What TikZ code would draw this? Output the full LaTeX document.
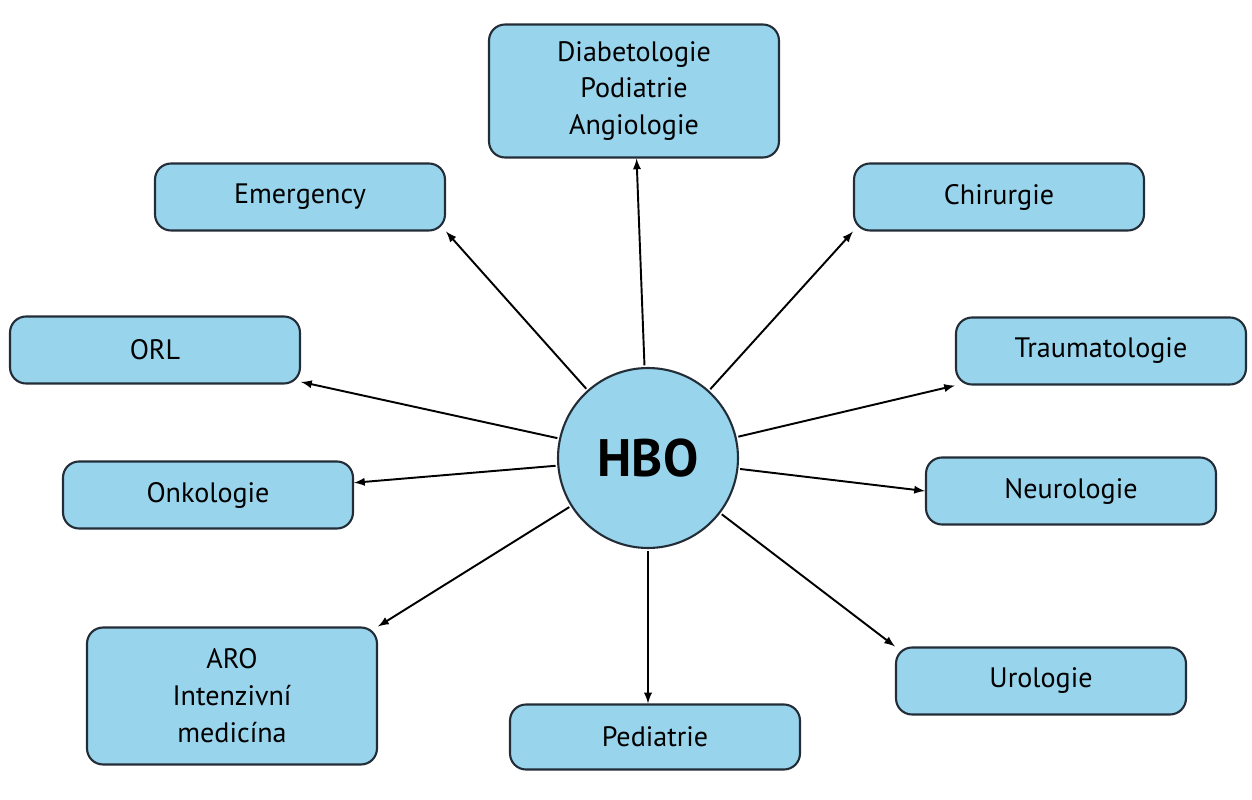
\documentclass[tikz,border=0pt]{standalone}
\usepackage{fontspec}
\setmainfont{PT Sans}
\usetikzlibrary{positioning}
\definecolor{boxfill}{RGB}{152,212,236}
\definecolor{boxline}{RGB}{35,45,55}

\begin{document}
\begin{tikzpicture}[x=0.02cm,y=-0.02cm,>=latex,
  thick,
  field/.style={rectangle,rounded corners=0.32cm,draw=boxline,line width=1.2pt,
    fill=boxfill,minimum width=5.8cm,minimum height=1.34cm,align=center,
    font=\fontsize{16}{21}\selectfont},
  hub/.style={circle,draw=boxline,line width=1.2pt,fill=boxfill,
    minimum size=3.6cm,font=\fontsize{30}{36}\selectfont\bfseries},
  link/.style={->,line width=1.1pt,shorten <=1pt}]

  \useasboundingbox (0,0) rectangle (1252,800);

  \node[hub] (hbo) at (648,458) {HBO};
  \node[field,minimum height=2.66cm] (dia) at (634,91) {Diabetologie\\Podiatrie\\Angiologie};
  \node[field] (eme) at (300,197) {Emergency};
  \node[field] (chi) at (999,197) {Chirurgie};
  \node[field] (orl) at (155,350) {ORL};
  \node[field] (tra) at (1101,351) {Traumatologie};
  \node[field] (onk) at (208,495) {Onkologie};
  \node[field] (neu) at (1071,491) {Neurologie};
  \node[field,minimum height=2.74cm] (aro) at (232,696) {ARO\\Intenzivní\\medicína};
  \node[field,minimum height=1.3cm] (ped) at (655,737) {Pediatrie};
  \node[field] (uro) at (1041,681) {Urologie};

  \draw[link] (hbo) -- (dia);
  \draw[link] (hbo) -- (eme.south east);
  \draw[link] (hbo) -- (chi.south west);
  \draw[link] (hbo) -- (orl);
  \draw[link] (hbo) -- (tra.south west);
  \draw[link] (hbo) -- (onk);
  \draw[link] (hbo) -- (neu.west);
  \draw[link] (hbo) -- (aro.north east);
  \draw[link] (hbo.south) -- (ped.north -| hbo.south);
  \draw[link] (hbo) -- (uro.north west);
\end{tikzpicture}
\end{document}
